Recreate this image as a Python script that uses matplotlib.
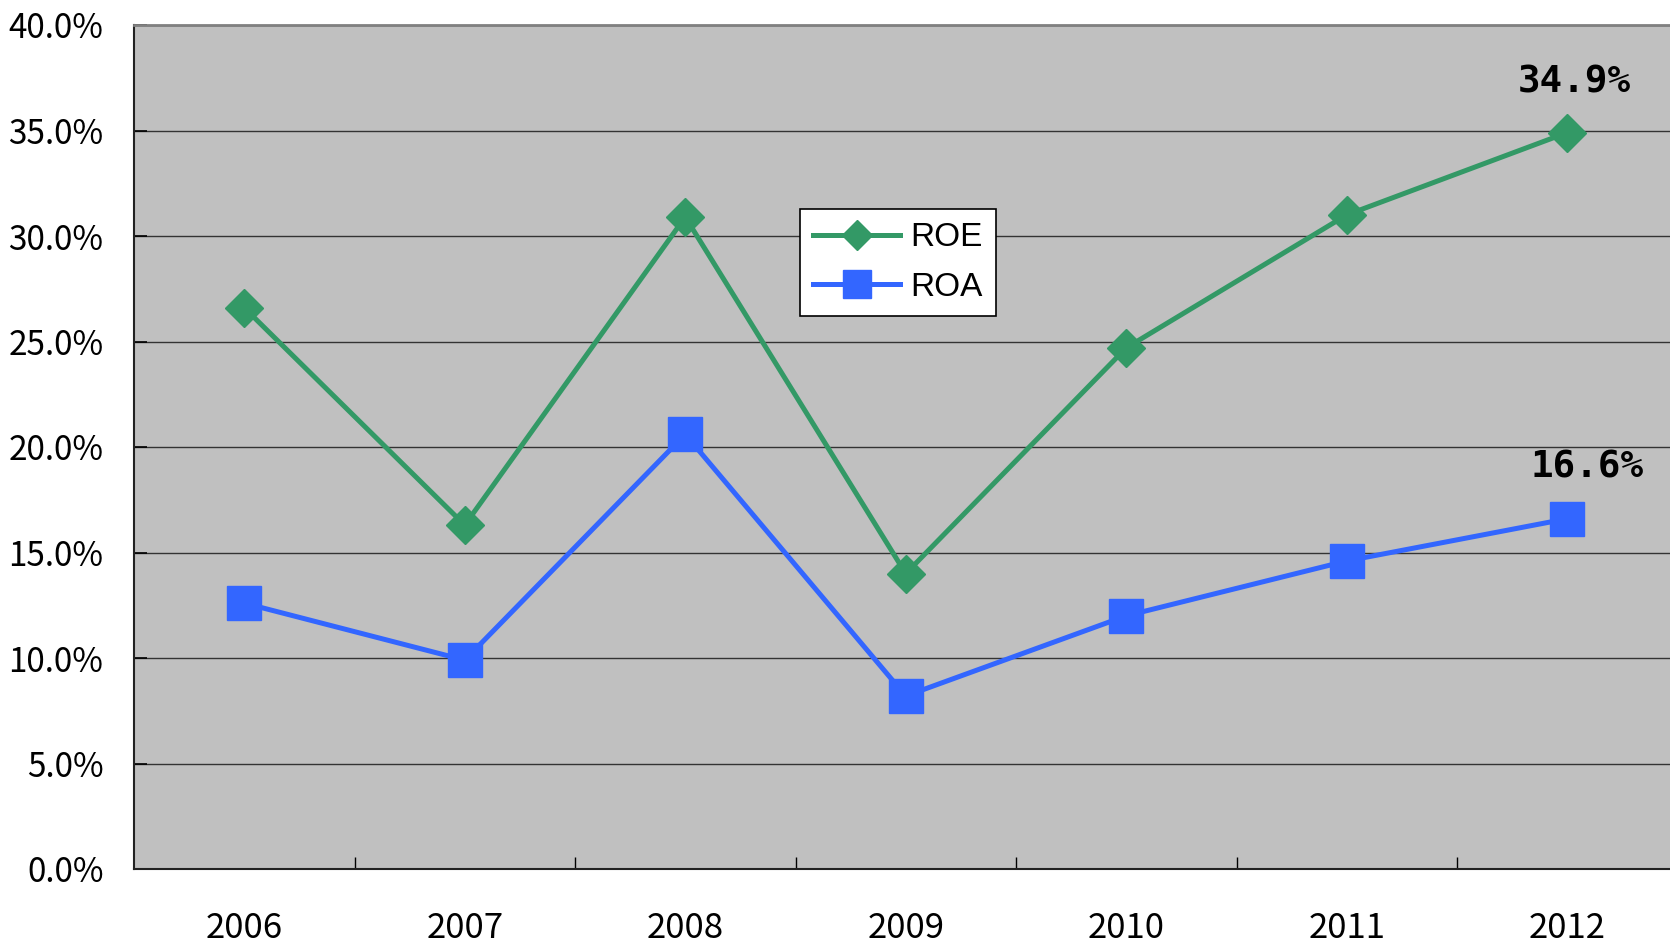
import matplotlib.pyplot as plt
from matplotlib.ticker import FuncFormatter, FixedLocator, NullFormatter

years = ['2006', '2007', '2008', '2009', '2010', '2011', '2012']
roe = [26.6, 16.3, 30.9, 14.0, 24.7, 31.0, 34.9]
roa = [12.6, 9.9, 20.6, 8.2, 12.0, 14.6, 16.6]

jp = ['Noto Sans CJK JP', 'DejaVu Sans']

fig = plt.figure(figsize=(16.7, 9.43), dpi=100)
# axes runs slightly past the right edge like the original
ax = fig.add_axes([134 / 1670, (943 - 869) / 943, 1543.5 / 1670, 844 / 943])
ax.set_facecolor('#C0C0C0')

x = list(range(len(years)))
ax.plot(x, roe, color='#339966', lw=3.6, marker='D', ms=19, label='ROE', zorder=3)
ax.plot(x, roa, color='#3366FF', lw=3.6, marker='s', ms=25, label='ROA', zorder=3)

ax.set_xlim(-0.5, 6.5)
ax.set_ylim(0, 40)

ax.yaxis.set_major_locator(FixedLocator([0, 5, 10, 15, 20, 25, 30, 35, 40]))
ax.yaxis.set_major_formatter(FuncFormatter(lambda v, p: f'{v:.1f}%'))
ax.grid(axis='y', color='#333333', lw=1.0, zorder=1)
ax.set_axisbelow(True)

ax.xaxis.set_major_locator(FixedLocator([i + 0.5 for i in range(6)]))
ax.xaxis.set_major_formatter(NullFormatter())
ax.xaxis.set_minor_locator(FixedLocator(x))
ax.set_xticklabels(years, minor=True)

ax.tick_params(axis='y', direction='in', length=9, width=1.2, pad=22, labelsize=24)
ax.tick_params(axis='x', which='major', direction='in', length=9, width=1)
ax.tick_params(axis='x', which='minor', length=0, pad=30, labelsize=25)
for lab in ax.get_yticklabels() + ax.get_xticklabels(minor=True):
    lab.set_family(jp)

for s in ['left', 'bottom']:
    ax.spines[s].set_color('#222222')
    ax.spines[s].set_linewidth(1.5)
ax.spines['top'].set_color('#808080')
ax.spines['top'].set_linewidth(2)
ax.spines['right'].set_visible(False)

ax.annotate(f'{roe[-1]:.1f}%', (6, roe[-1]), xytext=(5, 36), textcoords='offset points',
            ha='center', va='center', fontsize=27, fontweight='bold', family='DejaVu Sans Mono')
ax.annotate(f'{roa[-1]:.1f}%', (6, roa[-1]), xytext=(14, 37), textcoords='offset points',
            ha='center', va='center', fontsize=27, fontweight='bold', family='DejaVu Sans Mono')

leg = ax.legend(loc='upper left', bbox_to_anchor=(0.4315, 0.782), borderaxespad=0,
                fancybox=False, framealpha=1, edgecolor='black', handlelength=2.6,
                prop={'family': 'Liberation Sans', 'size': 24}, borderpad=0.4,
                labelspacing=0.55, handletextpad=0.3)
leg.get_frame().set_linewidth(1.2)
for h in leg.legend_handles:
    h.set_markersize(h.get_markersize() * 0.8)

fig.savefig('out.png', dpi=100)
